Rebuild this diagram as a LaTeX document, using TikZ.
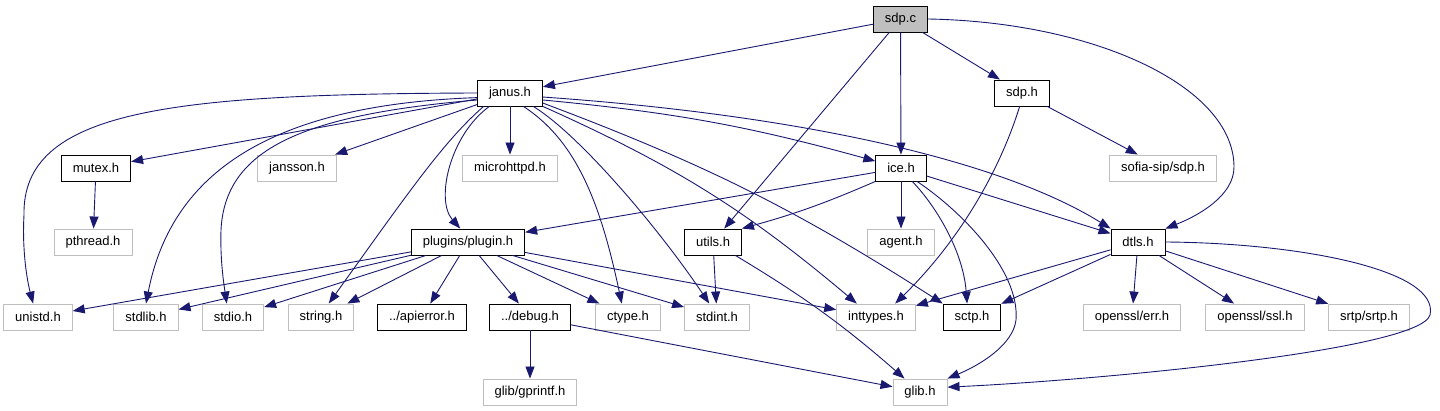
\documentclass[tikz,border=0pt]{standalone}
\usepackage{fontspec}
\setmainfont{Liberation Sans}
\usetikzlibrary{arrows.meta}
\definecolor{edgeblue}{HTML}{191970}
\definecolor{sysgray}{HTML}{BFBFBF}
\tikzset{
    hbox/.style={rectangle, draw=black, line width=0.9pt, fill=white, minimum height=26pt, inner xsep=11.5pt, inner ysep=0pt, font=\fontsize{13}{15}\selectfont},
    sysbox/.style={hbox, draw=sysgray},
    srcbox/.style={hbox, fill=sysgray},
    incl/.style={-{Triangle[length=12pt, width=9pt]}, line width=0.9pt, edgeblue},
}

\begin{document}
\begin{tikzpicture}[x=1pt, y=1pt]
\useasboundingbox (0,0) rectangle (1440,-411);

% Source file
\node[srcbox] (sdpc) at (900.5,-19) {sdp.c};

% Row 1
\node[hbox] (janus) at (510,-93) {janus.h};
\node[hbox] (sdph) at (1022,-93) {sdp.h};

% Row 2
\node[hbox] (mutex) at (96,-168) {mutex.h};
\node[sysbox] (jansson) at (297,-168) {jansson.h};
\node[sysbox] (microhttpd) at (510,-168) {microhttpd.h};
\node[hbox] (ice) at (901,-168) {ice.h};
\node[sysbox] (sofia) at (1163,-168) {sofia-sip/sdp.h};

% Row 3
\node[sysbox] (pthread) at (93,-242) {pthread.h};
\node[hbox] (plugin) at (468,-242) {plugins/plugin.h};
\node[hbox] (utils) at (713,-242) {utils.h};
\node[sysbox] (agent) at (901,-242) {agent.h};
\node[hbox] (dtls) at (1138,-242) {dtls.h};

% Row 4
\node[sysbox] (unistd) at (38,-317) {unistd.h};
\node[sysbox] (stdlib) at (146,-317) {stdlib.h};
\node[sysbox] (stdio) at (233,-317) {stdio.h};
\node[sysbox] (stringh) at (321,-317) {string.h};
\node[hbox] (apierror) at (422,-317) {../apierror.h};
\node[hbox] (debug) at (530,-317) {../debug.h};
\node[sysbox] (ctype) at (628,-317) {ctype.h};
\node[sysbox] (stdint) at (717,-317) {stdint.h};
\node[sysbox] (inttypes) at (876,-317) {inttypes.h};
\node[hbox] (sctp) at (972,-317) {sctp.h};
\node[sysbox] (sslerr) at (1132,-317) {openssl/err.h};
\node[sysbox] (ssl) at (1255,-317) {openssl/ssl.h};
\node[sysbox] (srtp) at (1369,-317) {srtp/srtp.h};

% Row 5
\node[sysbox] (gprintf) at (530,-392) {glib/gprintf.h};
\node[sysbox] (glib) at (920,-392) {glib.h};

% ── sdp.c ──
\draw[incl] (sdpc) -- (janus);
\draw[incl] (sdpc) -- (utils);
\draw[incl] (sdpc) -- (ice);
\draw[incl] (sdpc) -- (sdph);
\draw[incl] (sdpc.east) .. controls (1096,-22) and (1234,-87) .. (1234,-167)
    .. controls (1234,-195) and (1200,-215) .. (dtls.north east);

% ── janus.h ──
\draw[incl] (janus) -- (mutex);
\draw[incl] (janus) -- (jansson);
\draw[incl] (janus) -- (microhttpd);
\draw[incl] (janus.west) .. controls (170,-94) and (22,-110) .. (24,-215)
    .. controls (22,-250) and (27,-280) .. (unistd.110);
\draw[incl] (janus.188) .. controls (260,-105) and (170,-180) .. (stdlib.north);
\draw[incl] (janus.192) .. controls (300,-115) and (225,-150) .. (221,-230)
    .. controls (220,-260) and (224,-285) .. (stdio.115);
\draw[incl] (janus.207) .. controls (445,-140) and (410,-190) .. (stringh.60);
\draw[incl] (janus.213) .. controls (450,-135) and (435,-200) .. (plugin.120);
\draw[incl] (janus.315) .. controls (575,-140) and (600,-200) .. (ctype.115);
\draw[incl] (janus.330) .. controls (580,-135) and (660,-230) .. (stdint.120);
\draw[incl] (janus.south east) to[bend left=8] (inttypes.145);
\draw[incl] (janus.343) to[bend left=6] (sctp.north west);
\draw[incl] (janus.348) to[bend left=5] (ice.165);
\draw[incl] (janus.353) .. controls (800,-115) and (1000,-160) .. (dtls.north west);

% ── ice.h ──
\draw[incl] (ice) -- (plugin);
\draw[incl] (ice.south west) to[bend left=4] (utils.north east);
\draw[incl] (ice) -- (agent);
\draw[incl] (ice) -- (dtls);
\draw[incl] (ice.310) .. controls (935,-205) and (963,-250) .. (sctp.110);
\draw[incl] (ice.320) .. controls (960,-210) and (1020,-270) .. (1016,-320)
    .. controls (1013,-345) and (980,-365) .. (glib.north east);

% ── sdp.h, mutex.h ──
\draw[incl] (sdph.260) .. controls (1000,-170) and (960,-240) .. (inttypes.35);
\draw[incl] (sdph) -- (sofia);
\draw[incl] (mutex) -- (pthread);

% ── plugins/plugin.h ──
\draw[incl] (plugin) -- (unistd);
\draw[incl] (plugin) -- (stdlib);
\draw[incl] (plugin) -- (stdio);
\draw[incl] (plugin) -- (stringh);
\draw[incl] (plugin) -- (apierror);
\draw[incl] (plugin) -- (debug);
\draw[incl] (plugin) -- (ctype);
\draw[incl] (plugin) -- (stdint);
\draw[incl] (plugin) -- (inttypes);

% ── utils.h, ../debug.h ──
\draw[incl] (utils) -- (stdint);
\draw[incl] (utils) to[bend left=5] (glib);
\draw[incl] (debug) -- (gprintf);
\draw[incl] (debug) -- (glib);

% ── dtls.h ──
\draw[incl] (dtls) -- (inttypes);
\draw[incl] (dtls) -- (sctp);
\draw[incl] (dtls) -- (sslerr);
\draw[incl] (dtls) -- (ssl);
\draw[incl] (dtls) -- (srtp);
\draw[incl] (dtls.east) .. controls (1300,-243) and (1440,-270) .. (1430,-315)
    .. controls (1420,-350) and (1100,-380) .. (glib.10);

\end{tikzpicture}
\end{document}
